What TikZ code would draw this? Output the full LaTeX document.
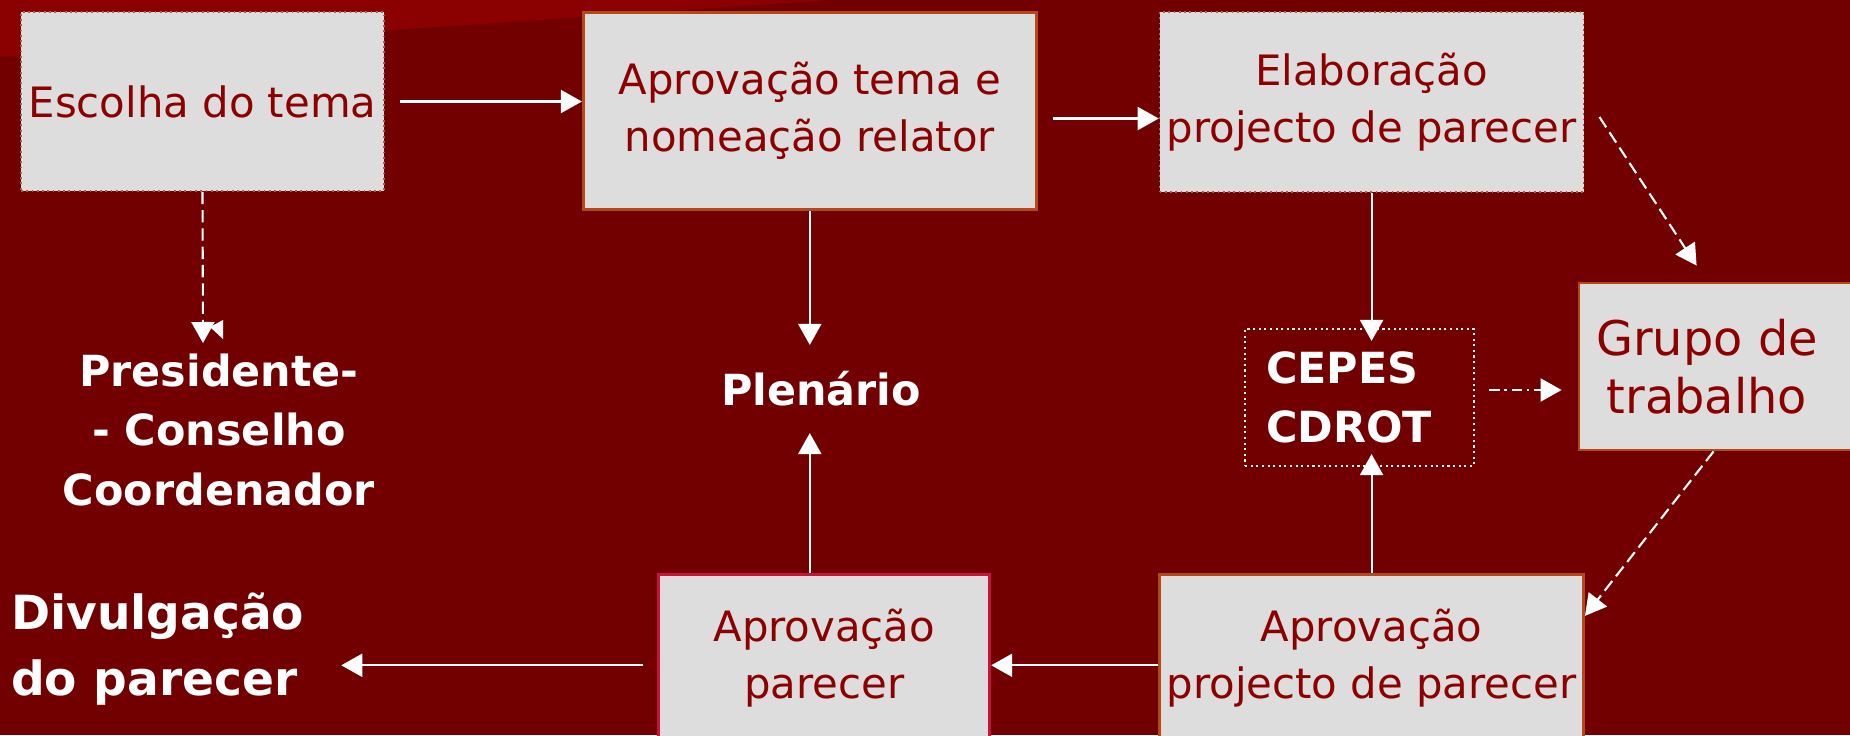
\documentclass[tikz,border=0pt]{standalone}
\usepackage{fontspec}
\setmainfont{DejaVu Sans}
\usepackage{tikz}
\usetikzlibrary{arrows.meta}
\usetikzlibrary{positioning}
\usetikzlibrary{calc}
\definecolor{bgred}{RGB}{114,0,0}
\definecolor{stripered}{RGB}{139,0,0}
\definecolor{boxgray}{RGB}{221,221,221}
\definecolor{txtred}{RGB}{140,0,0}
\definecolor{rust}{RGB}{178,74,26}
\definecolor{crimson}{RGB}{200,20,60}
\tikzset{dsh/.style={dash pattern=on 3.5pt off 1.7pt}}
\tikzset{dshdot/.style={dash pattern=on 3pt off 1.3pt on 0.8pt off 1.3pt}}
\begin{document}
\begin{tikzpicture}[->,>={Triangle[length=0.21cm,width=0.23cm]},line width=0.6pt,white]
\tikzstyle{stage} = [rectangle, fill=boxgray, text=txtred, align=center, inner sep=0pt, font=\fontsize{11.9}{16.2}\selectfont]
\tikzstyle{solidstage} = [stage, draw=rust, line width=0.8pt]
\tikzstyle{dotstage} = [stage, draw=rust!50!gray, densely dotted, line width=0.5pt]
\tikzstyle{body} = [text=white, align=center, inner sep=0pt, font=\bfseries\fontsize{12.2}{16.8}\selectfont]

\fill[bgred] (0,0) rectangle (18.5,7.35);
\useasboundingbox (0,0) rectangle (18.5,7.35);
\fill[stripered] (0,7.35) -- (8.3,7.35) -- (0,6.78) -- cycle;

\node[dotstage, minimum width=3.63cm, minimum height=1.79cm] (escolha) at (2.025,6.335) {Escolha do tema};
\node[solidstage, minimum width=4.53cm, minimum height=1.97cm, right=1.97cm of escolha.north east, anchor=north west] (aprtema) {Aprovação tema e\\nomeação relator};
\node[dotstage, minimum width=4.24cm, minimum height=1.80cm, right=1.21cm of aprtema.north east, anchor=north west] (elab) {Elaboração\\projecto de parecer};
\node[solidstage, minimum width=2.91cm, minimum height=1.67cm, font=\fontsize{13.6}{16.5}\selectfont] (grupo) at (17.245,3.685) {Grupo de\hspace*{0.35cm}\\trabalho\hspace*{0.35cm}};
\node[solidstage, minimum width=4.24cm, minimum height=1.68cm, below=3.8cm of elab] (aprproj) {Aprovação\\projecto de parecer};
\node[stage, draw=crimson, line width=0.8pt, minimum width=3.31cm, minimum height=1.68cm, left=1.67cm of aprproj] (aprpar) {Aprovação\\parecer};

\node[body, draw=white, densely dotted, line width=0.6pt, align=left, text width=1.87cm, inner xsep=0.21cm, minimum height=1.37cm] (cepes) at (13.595,3.375) {CEPES\\CDROT};
\node[body] (pres) at (2.19,3.05) {Presidente-\\- Conselho\\Coordenador};
\node[body, minimum height=0.86cm] (plen) at (8.21,3.46) {Plenário};
\node[body, align=left, anchor=west, font=\bfseries\fontsize{13.4}{18.7}\selectfont] (div) at (0.10,0.86) {Divulgação\\do parecer};
\coordinate (prestip) at (2.03,3.92);

% linha de cima
\draw[shorten <=0.15cm] (escolha.east) -- (escolha.east -| aprtema.west);
\draw[shorten <=0.15cm] ([yshift=-0.075cm]aprtema.east) -- ([yshift=-0.075cm]aprtema.east -| elab.west);
\draw[dsh] ([xshift=0.15cm,yshift=-0.15cm]elab.east) -- ([xshift=1.19cm,yshift=0.16cm]grupo.north west);
\draw[dsh] (escolha.south) -- (prestip);
\fill[-] ([shift={(0.2,0.23)}]prestip) -- ([shift={(0.2,0.04)}]prestip) -- ([shift={(0.07,0.16)}]prestip) -- cycle;

% plenario e CEPES
\draw (aprtema.south) -- (aprtema.south |- plen.north);
\draw (aprtema.south |- aprpar.north) -- (aprtema.south |- plen.south);
\draw[shorten >=-0.13cm] (elab.south) -- (elab.south |- cepes.north);
\draw[shorten >=-0.13cm] (aprproj.north) -- (aprproj.north |- cepes.south);
\draw[dshdot, shorten <=0.14cm, shorten >=0.16cm] ([yshift=0.075cm]cepes.east) -- ([yshift=0.075cm]cepes.east -| grupo.west);

% linha de baixo
\draw[dsh] ([xshift=1.36cm]grupo.south west) -- ([yshift=-0.43cm]aprproj.north east);
\draw ([yshift=-0.07cm]aprproj.west) -- ([yshift=-0.07cm]aprpar.east);
\draw[shorten <=0.14cm, shorten >=0.36cm] ([yshift=-0.07cm]aprpar.west) -- ([yshift=-0.07cm]aprpar.west -| div.east);

\end{tikzpicture}
\end{document}
